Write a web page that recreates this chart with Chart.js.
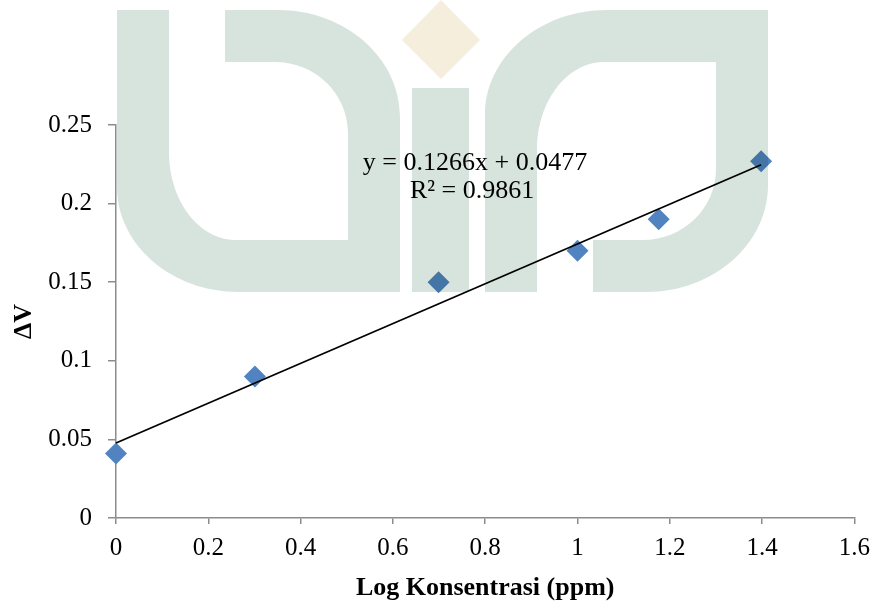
<!DOCTYPE html>
<html>
<head>
<meta charset="utf-8">
<script src="https://cdn.jsdelivr.net/npm/chart.js@4.4.1/dist/chart.umd.min.js"></script>
<style>
  html, body { margin: 0; padding: 0; background: #ffffff; }
  canvas { display: block; }
</style>
</head>
<body>
<canvas id="c" width="879" height="603"></canvas>
<script>
// ---- data ----
const logConc = [0, 0.301, 0.699, 1, 1.176, 1.398];
const deltaV  = [0.041, 0.09, 0.15, 0.17, 0.19, 0.227];
const slope = 0.1266;
const intercept = 0.0477;
const eqLines = ['y = 0.1266x + 0.0477', 'R\u00B2 = 0.9861'];
const xTickLabels = ['0', '0.2', '0.4', '0.6', '0.8', '1', '1.2', '1.4', '1.6'];
const yTickLabels = ['0', '0.05', '0.1', '0.15', '0.2', '0.25'];
const xTitle = 'Log Konsentrasi (ppm)';
const yTitle = '\u0394V';

const points = logConc.map((x, i) => ({ x: x, y: deltaV[i] }));
const xEnd = logConc[logConc.length - 1];
const trend = [
  { x: 0, y: intercept },
  { x: xEnd, y: slope * xEnd + intercept }
];

const SERIF = "'Liberation Serif', 'Times New Roman', serif";
const AXIS = '#8c8c8c';
const WM = '#d7e4dd';
const WM_D = '#f6eedc';

// background watermark (decoration) drawn with multiply
function leftShape(ctx) {
  const k = 0.5523;
  ctx.beginPath();
  ctx.moveTo(117, 10);
  ctx.lineTo(169, 10);
  ctx.lineTo(169, 152);
  ctx.bezierCurveTo(169, 152 + 88 * k, 236 - 67 * k, 240, 236, 240);
  ctx.lineTo(348, 240);
  ctx.lineTo(348, 133);
  ctx.bezierCurveTo(348, 133 - 71 * k, 275 + 73 * k, 62, 275, 62);
  ctx.lineTo(225, 62);
  ctx.lineTo(225, 10);
  ctx.lineTo(278, 10);
  ctx.bezierCurveTo(278 + 122 * k, 10, 400, 117 - 107 * k, 400, 117);
  ctx.lineTo(400, 292);
  ctx.lineTo(239, 292);
  ctx.bezierCurveTo(239 - 122 * k, 292, 117, 187 + 105 * k, 117, 187);
  ctx.closePath();
  ctx.fill();
}

const bgPlugin = {
  id: 'bg',
  beforeDraw(chart) {
    const ctx = chart.ctx;
    ctx.save();
    ctx.fillStyle = '#ffffff';
    ctx.fillRect(0, 0, chart.width, chart.height);
    ctx.restore();
  },
  afterDraw(chart) {
    const ctx = chart.ctx;
    ctx.save();
    ctx.globalCompositeOperation = 'multiply';
    ctx.fillStyle = WM;
    leftShape(ctx);
    ctx.save();
    ctx.translate(368, 302);
    ctx.scale(1, -1);
    leftShape(ctx);
    ctx.restore();
    ctx.fillRect(412, 88, 57, 204);
    ctx.fillStyle = WM_D;
    ctx.beginPath();
    ctx.moveTo(441, 0);
    ctx.lineTo(480, 40);
    ctx.lineTo(441, 79);
    ctx.lineTo(402, 40);
    ctx.closePath();
    ctx.fill();
    ctx.restore();
  }
};

const eqAnchor = { x: 0.778, y: 0.2258 };
const eqPlugin = {
  id: 'eq',
  afterDatasetsDraw(chart) {
    const ctx = chart.ctx;
    const xs = chart.scales.x, ys = chart.scales.y;
    const px = xs.getPixelForValue(eqAnchor.x);
    const py = ys.getPixelForValue(eqAnchor.y);
    ctx.save();
    ctx.fillStyle = '#000000';
    ctx.font = '26px ' + SERIF;
    ctx.textAlign = 'center';
    ctx.textBaseline = 'middle';
    ctx.fillText(eqLines[0], px, py);
    ctx.fillText(eqLines[1], px - 3, py + 28);
    ctx.restore();
  }
};

new Chart(document.getElementById('c'), {
  type: 'scatter',
  data: {
    datasets: [
      {
        label: 'trend',
        type: 'line',
        data: trend,
        borderColor: '#000000',
        borderWidth: 1.8,
        pointRadius: 0,
        fill: false,
        clip: false,
        order: 0
      },
      {
        label: 'data',
        data: points,
        pointStyle: 'rectRot',
        pointRadius: 11,
        pointHoverRadius: 11,
        backgroundColor: '#5183c0',
        borderColor: '#5183c0',
        borderWidth: 0,
        clip: false,
        order: 1
      }
    ]
  },
  options: {
    responsive: false,
    animation: false,
    layout: { padding: { top: 125, right: 21, left: 0, bottom: 0 } },
    plugins: { legend: { display: false }, tooltip: { enabled: false } },
    scales: {
      x: {
        type: 'linear',
        min: 0, max: 1.6,
        afterFit(s) { s.height = 85; },
        ticks: {
          stepSize: 0.2,
          color: '#000000',
          font: { family: SERIF, size: 25 },
          padding: 9,
          maxRotation: 0,
          callback: (v, i) => xTickLabels[i]
        },
        grid: { drawOnChartArea: false, drawTicks: true, tickLength: 6, color: AXIS, lineWidth: 1.5 },
        border: { display: true, color: AXIS, width: 1.5 },
        title: {
          display: true, text: xTitle, color: '#000000',
          font: { family: SERIF, size: 26, weight: 'bold', lineHeight: 1 },
          padding: { top: 0, bottom: 2 }
        }
      },
      y: {
        type: 'linear',
        min: 0, max: 0.25,
        afterFit(s) { s.width = 116; },
        ticks: {
          stepSize: 0.05,
          color: '#000000',
          font: { family: SERIF, size: 25 },
          padding: 16,
          callback: (v, i) => yTickLabels[i]
        },
        grid: { drawOnChartArea: false, drawTicks: true, tickLength: 8, color: AXIS, lineWidth: 1.5 },
        border: { display: true, color: AXIS, width: 1.5 },
        title: {
          display: true, text: yTitle, color: '#000000',
          font: { family: SERIF, size: 26, weight: 'bold', lineHeight: 1 },
          padding: { top: 11, bottom: 0 }
        }
      }
    }
  },
  plugins: [bgPlugin, eqPlugin]
});
</script>
</body>
</html>
